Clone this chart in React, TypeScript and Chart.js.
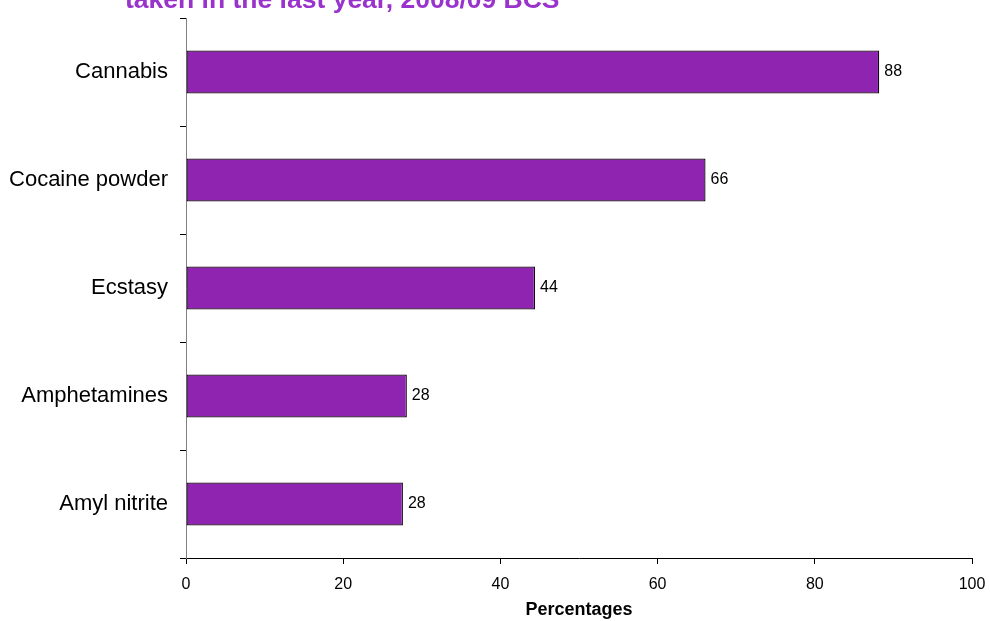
import React, { useEffect, useRef } from "react";
import { Chart, registerables } from "chart.js";

Chart.register(...registerables);

const titleText = "taken in the last year, 2008/09 BCS";
const categories = ["Cannabis", "Cocaine powder", "Ecstasy", "Amphetamines", "Amyl nitrite"];
const values = [88.2, 66.1, 44.4, 28.1, 27.6];
const xTicks = [0, 20, 40, 60, 80, 100];
const xAxisTitle = "Percentages";

const FONT = "'Liberation Sans', Arial, sans-serif";

const overlayPlugin = {
  id: "overlay",
  afterDatasetsDraw(chart: any) {
    const ctx = chart.ctx;
    const meta = chart.getDatasetMeta(0);
    ctx.save();
    ctx.fillStyle = "#000";
    ctx.font = `16px ${FONT}`;
    ctx.textAlign = "left";
    ctx.textBaseline = "middle";
    meta.data.forEach((bar: any, i: number) => {
      ctx.fillText(String(Math.round(values[i])), bar.x + 5, bar.y);
    });
    ctx.restore();
  },
  afterDraw(chart: any) {
    const ctx = chart.ctx;
    ctx.save();
    ctx.fillStyle = "#9933CC";
    ctx.font = `bold 26.5px ${FONT}`;
    ctx.textAlign = "left";
    ctx.textBaseline = "alphabetic";
    ctx.fillText(titleText, 125, 8);
    ctx.restore();
  },
};

export default function App() {
  const ref = useRef<HTMLCanvasElement | null>(null);
  useEffect(() => {
    document.body.style.margin = "0";
    const canvas = ref.current!;
    const chart = new Chart(canvas, {
      type: "bar",
      data: {
        labels: categories,
        datasets: [
          {
            data: values,
            backgroundColor: "#8E24B0",
            borderColor: "#140414",
            borderWidth: 1.3,
            borderSkipped: false,
            inflateAmount: 0,
            categoryPercentage: 1,
            barPercentage: 0.4,
          },
        ],
      },
      options: {
        indexAxis: "y",
        responsive: false,
        animation: false,
        layout: { padding: { top: 18, right: 18, bottom: 0, left: 0 } },
        plugins: {
          legend: { display: false },
          tooltip: { enabled: false },
          title: { display: false },
        },
        scales: {
          x: {
            type: "linear",
            min: 0,
            max: 100,
            afterBuildTicks(scale: any) {
              scale.ticks = xTicks.map((v) => ({ value: v }));
            },
            afterFit(scale: any) {
              scale.height = 63;
              scale.paddingLeft = 0;
              scale.paddingRight = 0;
            },
            grid: {
              drawOnChartArea: false,
              drawTicks: true,
              tickLength: 6,
              color: "#000",
            },
            border: { display: true, color: "#000", width: 1 },
            ticks: {
              padding: 11,
              color: "#000",
              font: { family: FONT, size: 16 },
              maxRotation: 0,
            },
            title: {
              display: true,
              text: xAxisTitle,
              color: "#000",
              font: { family: FONT, size: 18, weight: "bold" },
              padding: { top: 0, bottom: 0 },
            },
          },
          y: {
            type: "category",
            afterFit(scale: any) {
              scale.width = 186;
              scale.paddingTop = 0;
              scale.paddingBottom = 0;
            },
            grid: {
              offset: true,
              drawOnChartArea: false,
              drawTicks: true,
              tickLength: 6,
              color: "#000",
            },
            border: { display: true, color: "#808080", width: 1 },
            ticks: {
              padding: 12,
              color: "#000",
              font: { family: FONT, size: 22 },
            },
          },
        },
      },
      plugins: [overlayPlugin],
    } as any);
    return () => chart.destroy();
  }, []);
  return <canvas ref={ref} width={990} height={621} style={{ display: "block" }} />;
}
